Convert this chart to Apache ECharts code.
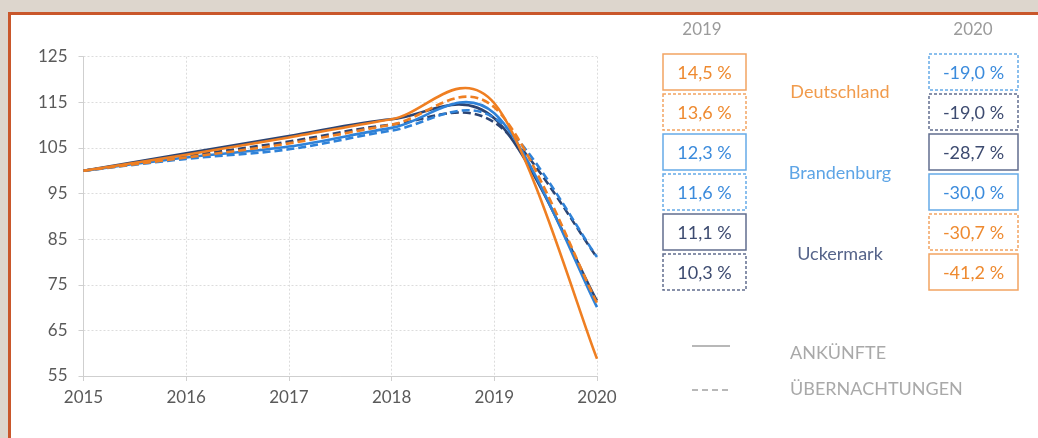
<!DOCTYPE html>
<html>
<head>
<meta charset="utf-8">
<script src="https://cdn.jsdelivr.net/npm/echarts@6/dist/echarts.min.js"></script>
<style>
    html, body { margin: 0; padding: 0; background: #ddd6cd; overflow: hidden; }
    #panel {
        position: absolute; left: 8px; top: 12px; width: 1100px; height: 500px;
        background: #fff; border-left: 3px solid #c9572b; border-top: 3px solid #c9572b;
    }
    #chart { position: absolute; left: 0; top: 0; width: 1038px; height: 438px; }
</style>
</head>
<body>
<div id="panel"></div>
<div id="chart"></div>
<script>
    // Jahre und Index (2015 = 100)
    const years = [2015, 2016, 2017, 2018, 2019, 2020];
    const yTicks = [55, 65, 75, 85, 95, 105, 115, 125];

    const deAnk = [100, 103.5, 107.3, 111.3, 114.8, 58.8];
    const deUeb = [100, 102.9, 106.0, 110.1, 113.9, 71.0];
    const bbAnk = [100, 102.9, 105.3, 109.4, 112.6, 70.1];
    const bbUeb = [100, 102.6, 104.7, 108.8, 111.6, 81.1];
    const ukAnk = [100, 103.8, 107.6, 111.3, 111.5, 71.5];
    const ukUeb = [100, 103.2, 106.4, 110.1, 110.6, 81.0];

    const seriesNames = ['Deutschland Ankünfte', 'Deutschland Übernachtungen', 'Brandenburg Ankünfte',
        'Brandenburg Übernachtungen', 'Uckermark Ankünfte', 'Uckermark Übernachtungen'];
    const seriesValues = [deAnk, deUeb, bbAnk, bbUeb, ukAnk, ukUeb];

    const regions = ['Deutschland', 'Brandenburg', 'Uckermark'];
    const pct2019 = ['14,5 %', '13,6 %', '12,3 %', '11,6 %', '11,1 %', '10,3 %'];
    const pct2019Series = [0, 1, 2, 3, 4, 5];
    const pct2020 = ['-19,0 %', '-19,0 %', '-28,7 %', '-30,0 %', '-30,7 %', '-41,2 %'];
    const pct2020Series = [3, 5, 4, 2, 1, 0];
    const legendLabels = ['ANKÜNFTE', 'ÜBERNACHTUNGEN'];

    // Farben
    const lineColors = ['#ef7f22', '#ef7f22', '#2f82d8', '#2f82d8', '#2c4472', '#2c4472'];
    const textColors = ['#ee8a30', '#ee8a30', '#3b8bdc', '#3b8bdc', '#3d4b70', '#3d4b70'];
    const boxColors = ['#f2a462', '#f2a462', '#66aae8', '#66aae8', '#616e8e', '#616e8e'];
    const regionColors = ['#f19b4c', '#5ea5e6', '#56648a'];
    const font = 'Lato, "Open Sans", sans-serif';

    const chart = echarts.init(document.getElementById('chart'), null, { renderer: 'canvas' });

    // geglättete Linie wie im Excel-Original (Catmull-Rom als Bezier)
    const smoothRenderer = function (vals, i) {
        return function (params, api) {
            if (params.dataIndex !== 0) {
                return null;
            }
            const pts = years.map(function (y, k) { return api.coord([y, vals[k]]); });
            const n = pts.length;
            let d = 'M' + pts[0][0] + ' ' + pts[0][1];
            for (let k = 0; k < n - 1; k++) {
                const p0 = pts[Math.max(k - 1, 0)];
                const p1 = pts[k];
                const p2 = pts[k + 1];
                const p3 = pts[Math.min(k + 2, n - 1)];
                const c1x = p1[0] + (p2[0] - p0[0]) / 6;
                const c1y = p1[1] + (p2[1] - p0[1]) / 6;
                const c2x = p2[0] - (p3[0] - p1[0]) / 6;
                const c2y = p2[1] - (p3[1] - p1[1]) / 6;
                d += ' C' + c1x + ' ' + c1y + ' ' + c2x + ' ' + c2y + ' ' + p2[0] + ' ' + p2[1];
            }
            return {
                type: 'path',
                shape: { pathData: d },
                style: {
                    fill: 'none',
                    stroke: lineColors[i],
                    lineWidth: 2.6,
                    lineDash: i % 2 === 1 ? [8, 4] : null
                }
            };
        };
    };

    // dunkel unten, orange oben
    const order = [5, 4, 3, 2, 1, 0];
    const series = order.map(function (i) {
        return {
            name: seriesNames[i],
            type: 'custom',
            renderItem: smoothRenderer(seriesValues[i], i),
            data: years.map(function (y, k) { return [y, seriesValues[i][k]]; }),
            encode: { x: 0, y: 1 },
            z: 2
        };
    });

    const graphics = [];
    const boxTop = 54, boxH = 36, boxStep = 40;
    const addBox = function (x, w, row, text, s) {
        graphics.push({
            type: 'rect',
            shape: { x: x, y: boxTop + row * boxStep, width: w, height: boxH },
            style: {
                fill: '#fff',
                stroke: boxColors[s],
                lineWidth: 1.5,
                lineDash: s % 2 === 1 ? [3, 2] : null
            }
        });
        graphics.push({
            type: 'text',
            x: x + w / 2,
            y: boxTop + row * boxStep + boxH / 2 + 1,
            style: {
                text: text,
                fill: textColors[s],
                font: '18px ' + font,
                align: 'center',
                verticalAlign: 'middle'
            }
        });
    };
    pct2019.forEach(function (t, r) { addBox(663, 83, r, t, pct2019Series[r]); });
    pct2020.forEach(function (t, r) { addBox(929, 89, r, t, pct2020Series[r]); });

    [['2019', 702], ['2020', 973]].forEach(function (h) {
        graphics.push({
            type: 'text', x: h[1], y: 30,
            style: { text: h[0], fill: '#9b9b9b', font: '17px ' + font, align: 'center', verticalAlign: 'middle' }
        });
    });

    const regionY = [92, 173, 254];
    regions.forEach(function (r, i) {
        graphics.push({
            type: 'text', x: 840, y: regionY[i],
            style: { text: r, fill: regionColors[i], font: '18px ' + font, align: 'center', verticalAlign: 'middle' }
        });
    });

    legendLabels.forEach(function (l, i) {
        const y = i === 0 ? 346 : 390;
        graphics.push({
            type: 'line',
            shape: { x1: 692, y1: y, x2: 730, y2: y },
            style: { stroke: '#b8b8b8', lineWidth: 2, lineDash: i === 1 ? [6, 4] : null }
        });
        graphics.push({
            type: 'text', x: 790, y: i === 0 ? 353 : 389,
            style: { text: l, fill: '#a9a9a9', font: '18px ' + font, align: 'left', verticalAlign: 'middle' }
        });
    });

    const option = {
        backgroundColor: 'transparent',
        animation: false,
        grid: { left: 83.5, right: 441, top: 56.7, bottom: 62 },
        xAxis: {
            type: 'value',
            min: 2015,
            max: 2020,
            interval: 1,
            axisLine: { lineStyle: { color: '#cfcfcf', width: 1 } },
            axisTick: { show: true, length: 5, lineStyle: { color: '#cfcfcf' } },
            axisLabel: {
                color: '#5a5a5a', fontSize: 17, fontFamily: font, margin: 13,
                formatter: function (v) { return String(v); }
            },
            splitLine: { show: true, lineStyle: { color: '#dcdcdc', type: [2, 2] } }
        },
        yAxis: {
            type: 'value',
            min: 55,
            max: 125,
            axisLine: { show: true, lineStyle: { color: '#cfcfcf', width: 1 } },
            axisTick: { show: true, length: 5, customValues: yTicks, lineStyle: { color: '#cfcfcf' } },
            axisLabel: { color: '#5a5a5a', fontSize: 17, fontFamily: font, margin: 16, customValues: yTicks },
            splitLine: { show: true, lineStyle: { color: '#dcdcdc', type: [2, 2] } }
        },
        series: series,
        graphic: graphics
    };

    chart.setOption(option);
</script>
</body>
</html>
